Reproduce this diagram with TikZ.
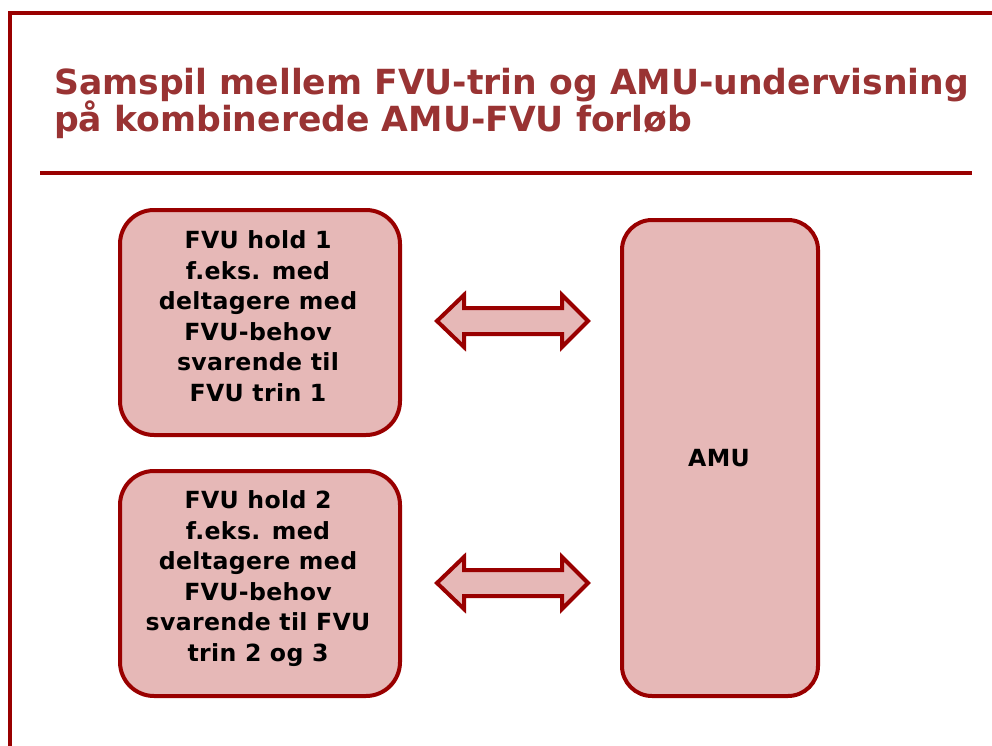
\documentclass[tikz,border=0pt]{standalone}
\usepackage{fontspec}
\setmainfont{DejaVu Sans}
\newfontfamily\boxfont{DejaVu Sans}[LetterSpace=1.5]
\definecolor{framered}{HTML}{990000}
\definecolor{titlered}{HTML}{993333}
\definecolor{boxfill}{HTML}{E6B8B7}
\begin{document}
\begin{tikzpicture}[x=1pt,y=-1pt,
  boxstyle/.style={draw=framered,fill=boxfill,line width=4pt,rounded corners=34pt,inner sep=0pt},
  boxtext/.style={align=center,font=\boxfont\fontsize{23.6}{30.5}\selectfont\bfseries,text=black,inner sep=0pt,anchor=north},
  arrowstyle/.style={draw=framered,fill=boxfill,line width=4pt,line join=miter},
  titlestyle/.style={anchor=base west,inner sep=0pt,text=titlered,font=\fontsize{34.6}{40}\selectfont\bfseries}]
\useasboundingbox (0,0) rectangle (992,746);
% frame
\draw[framered,line width=4pt] (10,746) -- (10,13) -- (992,13);
% title
\node[titlestyle] (t1) at (54,95) {Samspil mellem FVU-trin og AMU-undervisning};
\node[titlestyle] (t2) at (54,132) {på kombinerede AMU-FVU forløb};
\coordinate (rl) at (40,173);
\coordinate (rr) at (972,173);
\draw[framered,line width=4pt] (rl) -- (rr);
% boxes
\node[boxstyle,minimum width=280pt,minimum height=225pt] (b1) at (260,322.5) {};
\node[boxtext] (b1t) at (258,230.5)
  {FVU hold 1\\f.eks. med\\deltagere med\\FVU-behov\\svarende til\\FVU trin 1};
\node[boxstyle,minimum width=280pt,minimum height=225pt] (b2) at (260,583.5) {};
\node[boxtext] (b2t) at (258,490.5)
  {FVU hold 2\\f.eks. med\\deltagere med\\FVU-behov\\svarende til FVU\\trin 2 og 3};
\node[boxstyle,rounded corners=30pt,minimum width=196pt,minimum height=476pt] (amu) at (720,458) {};
\node[boxtext,anchor=center] (amut) at (719,458) {AMU};
% double arrows
\foreach \cy/\nm in {321/a1,583/a2}{
  \draw[arrowstyle] (437,\cy) -- (464,\cy-26) -- (464,\cy-13) -- (562,\cy-13) -- (562,\cy-26)
    -- (588,\cy) -- (562,\cy+26) -- (562,\cy+13) -- (464,\cy+13) -- (464,\cy+26) -- cycle;
}
\end{tikzpicture}
\end{document}
